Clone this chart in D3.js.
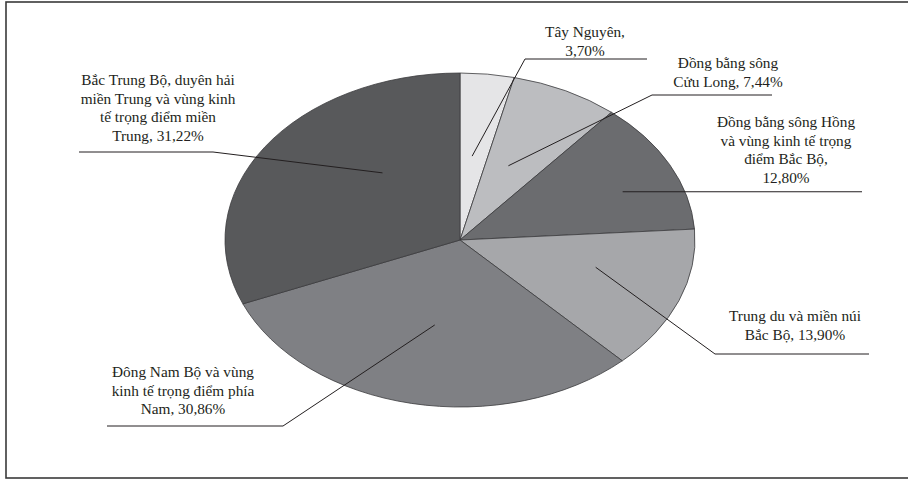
<!DOCTYPE html>
<html>
<head>
<meta charset="utf-8">
<script src="https://cdn.jsdelivr.net/npm/d3@7"></script>
<style>
  body { margin: 0; background: #fff; }
  text { font-family: "Liberation Serif", "DejaVu Serif", serif; font-size: 15.3px; fill: #231f20; }
</style>
</head>
<body>
<div id="chart"></div>
<script>
// Data
const regions = [
    "Tây Nguyên",
    "Đồng bằng sông Cửu Long",
    "Đồng bằng sông Hồng và vùng kinh tế trọng điểm Bắc Bộ",
    "Trung du và miền núi Bắc Bộ",
    "Đông Nam Bộ và vùng kinh tế trọng điểm phía Nam",
    "Bắc Trung Bộ, duyên hải miền Trung và vùng kinh tế trọng điểm miền Trung"
];
const shares = [3.70, 7.44, 12.80, 13.90, 30.86, 31.22];
const labelLines = [
    ["Tây Nguyên,", "3,70%"],
    ["Đồng bằng sông", "Cửu Long, 7,44%"],
    ["Đồng bằng sông Hồng", "và vùng kinh tế trọng", "điểm Bắc Bộ,", "12,80%"],
    ["Trung du và miền núi", "Bắc Bộ, 13,90%"],
    ["Đông Nam Bộ và vùng", "kinh tế trọng điểm phía", "Nam, 30,86%"],
    ["Bắc Trung Bộ, duyên hải", "miền Trung và vùng kinh", "tế trọng điểm miền", "Trung, 31,22%"]
];

const colors = ["#e5e5e7", "#bcbdc0", "#6b6c6f", "#a6a7aa", "#7f8084", "#58595b"];

// label layout: t = position inside slice angle, r = radius fraction,
// elbow / end of the leader, text centre and first line centre
const layout = [
    { t: 0.44, r: 0.505, elbow: [525, 59], end: 647, tx: 585, ty: 32 },
    { t: 0.43, r: 0.49, elbow: [652, 95], end: 772, tx: 728, ty: 63 },
    { t: 0.59, r: 0.75, elbow: null, end: 862, tx: 786, ty: 122 },
    { t: 0.39, r: 0.60, elbow: [715, 354], end: 869, tx: 795, ty: 316 },
    { t: 0.50, r: 0.52, elbow: [283, 426], end: 107, tx: 183, ty: 372 },
    { t: 0.65, r: 0.52, elbow: [213, 152], end: 79, tx: 158, ty: 80 }
];

const width = 908;
const height = 479;
const cx = 460, cy = 240;
const rx = 235, ry = 167;
const lineGap = 18.5;

const svg = d3.select("#chart")
    .append("svg")
    .attr("width", width)
    .attr("height", height);

// outer frame
svg.append("rect")
    .attr("x", 6)
    .attr("y", 2)
    .attr("width", 906)
    .attr("height", 476)
    .attr("fill", "none")
    .attr("stroke", "#3a3a3a")
    .attr("stroke-width", 1.6);

const pie = d3.pie().sort(null).value(d => d);
const arcs = pie(shares);

const arc = d3.arc()
    .innerRadius(0)
    .outerRadius(rx);

const g = svg.append("g")
    .attr("transform", `translate(${cx},${cy}) scale(1,${ry / rx})`);

g.selectAll("path")
    .data(arcs)
    .enter()
    .append("path")
    .attr("d", arc)
    .attr("fill", (d, i) => colors[i])
    .attr("stroke", "#3b3b3d")
    .attr("stroke-width", 0.8)
    .attr("vector-effect", "non-scaling-stroke");

// leaders
const inner = (d, i) => {
    const a = d.startAngle + (d.endAngle - d.startAngle) * layout[i].t;
    const r = rx * layout[i].r;
    return [cx + Math.sin(a) * r, cy - Math.cos(a) * r * ry / rx];
};

svg.selectAll(".leader")
    .data(arcs)
    .enter()
    .append("polyline")
    .attr("class", "leader")
    .attr("fill", "none")
    .attr("stroke", "#231f20")
    .attr("stroke-width", 1)
    .attr("points", (d, i) => {
        const p = inner(d, i);
        const L = layout[i];
        const pts = [p];
        if (L.elbow) {
            pts.push(L.elbow);
            pts.push([L.end, L.elbow[1]]);
        } else {
            pts.push([L.end, p[1]]);
        }
        return pts.map(q => q.join(",")).join(" ");
    });

// labels
const labels = svg.selectAll(".label")
    .data(labelLines)
    .enter()
    .append("text")
    .attr("class", "label")
    .attr("text-anchor", "middle");

labels.selectAll("tspan")
    .data((d, i) => d.map((s, j) => ({ s, x: layout[i].tx, y: layout[i].ty + j * lineGap })))
    .enter()
    .append("tspan")
    .attr("x", d => d.x)
    .attr("y", d => d.y + 5)
    .text(d => d.s);
</script>
</body>
</html>
